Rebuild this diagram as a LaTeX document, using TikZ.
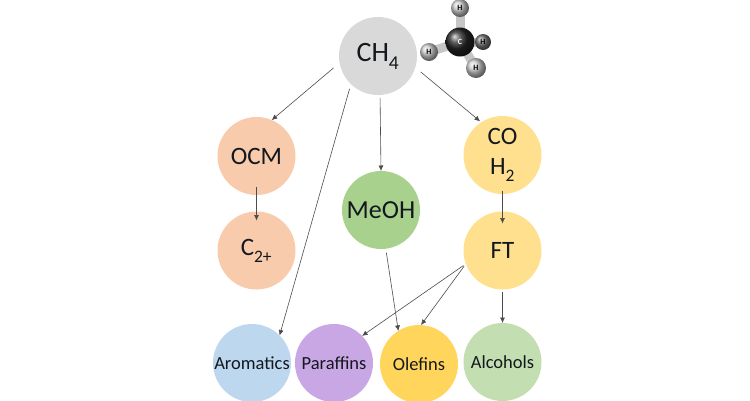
\documentclass[tikz,border=0pt]{standalone}
\usepackage{fontspec}
\setmainfont{Carlito}
\usepackage{tikz}
\usetikzlibrary{arrows.meta}
\usetikzlibrary{positioning}
\definecolor{grayc}{HTML}{D9D9D9}
\definecolor{peachc}{HTML}{F7CBAB}
\definecolor{greenc}{HTML}{A9D18E}
\definecolor{yellowc}{HTML}{FFE08F}
\definecolor{bluec}{HTML}{BDD7EE}
\definecolor{purplec}{HTML}{C9A6E4}
\definecolor{goldc}{HTML}{FFD55C}
\definecolor{sagec}{HTML}{C3DEB0}
\definecolor{inkc}{HTML}{14181E}
\newcommand{\lowsub}[1]{\raisebox{-.14em}{\textsubscript{#1}}}
\begin{document}
\begin{tikzpicture}[x=1pt,y=-1pt,
          circ/.style={circle,minimum size=78pt,inner sep=0pt,outer sep=0pt,font=\fontsize{25}{29}\selectfont,text=inkc},
          small/.style={circ,font=\fontsize{18.5}{22}\selectfont},
          link/.style={draw=black!70,line width=0.6pt,-{Latex[length=5.5pt,width=5pt]}},
          ball/.style={circle,minimum size=#1,inner sep=0pt,shading=ball,font=\fontsize{8}{9}\selectfont\bfseries,text=black},
          bond/.style={line width=9pt,draw=gray!45}]
          \useasboundingbox (0,0) rectangle (750,400);
          \clip (0,0) rectangle (750,400);
          \node[circ,fill=grayc,font=\fontsize{28}{32}\selectfont](ch4) at (378,56){CH\lowsub{4}};
          \node[circ,fill=peachc](ocm) at (256.5,156){OCM};
          \node[circ,fill=peachc](c2) at (256.5,250.5){C\lowsub{2+}};
          \node[circ,fill=greenc,font=\fontsize{26}{30}\selectfont](meoh) at (381,210){MeOH};
          \node[circ,fill=yellowc,align=center](co) at (502.5,155){CO\\[1.5pt]H\lowsub{2}};
          \node[circ,fill=yellowc](ft) at (502.5,250.5){FT};
          \node[small,fill=bluec](arom) at (252,363){Aromatics};
          \node[small,fill=purplec](para) at (334,363){Paraffins};
          \node[small,fill=goldc](olef) at (419,364){Olefins};
          \node[small,fill=sagec](alco) at (502.5,362){Alcohols};
          % molecule
          \coordinate (cc) at (460,42);
          \coordinate (ht) at (460,8);
          \coordinate (hl) at (429,52);
          \coordinate (hr) at (483,42);
          \coordinate (hb) at (476,68);
          \draw[bond] (cc)--(ht);
          \draw[bond] (cc)--(hl);
          \draw[bond] (cc)--(hr);
          \draw[bond] (cc)--(hb);
          \node[ball=16pt,ball color=black!55](h3) at (hr){H};
          \node[ball=29pt,ball color=black!85,text=white](carbon) at (cc){C};
          \node[ball=18pt,ball color=white!80!black](h1) at (ht){H};
          \node[ball=18pt,ball color=white!80!black](h2) at (hl){H};
          \node[ball=20pt,ball color=white!80!black](h4) at (hb){H};
          % arrows
          \draw[link,shorten <=8pt] (ch4.190)--(ocm.67);
          \draw[link,shorten <=5pt] (ch4.226)--(arom.45);
          \draw[link,shorten <=3pt] (ch4.273)--(meoh.90);
          \draw[link,shorten <=7pt,shorten >=1.5pt] (ch4.-17)--(co.123);
          \draw[link,shorten <=-8pt,shorten >=-9pt] (ocm.270)--(c2.90);
          \draw[link,shorten <=-3pt,shorten >=-12pt] (co.270)--(ft.90);
          \draw[link,shorten <=2pt] (ft.270)--(alco.90);
          \draw[link,shorten <=3pt] (ft.200)--(para.44);
          \draw[link,shorten <=3pt] (ft.200)--(olef.87);
          \draw[link,shorten <=4pt] (meoh.277)--(olef.122);
        \end{tikzpicture}
\end{document}
